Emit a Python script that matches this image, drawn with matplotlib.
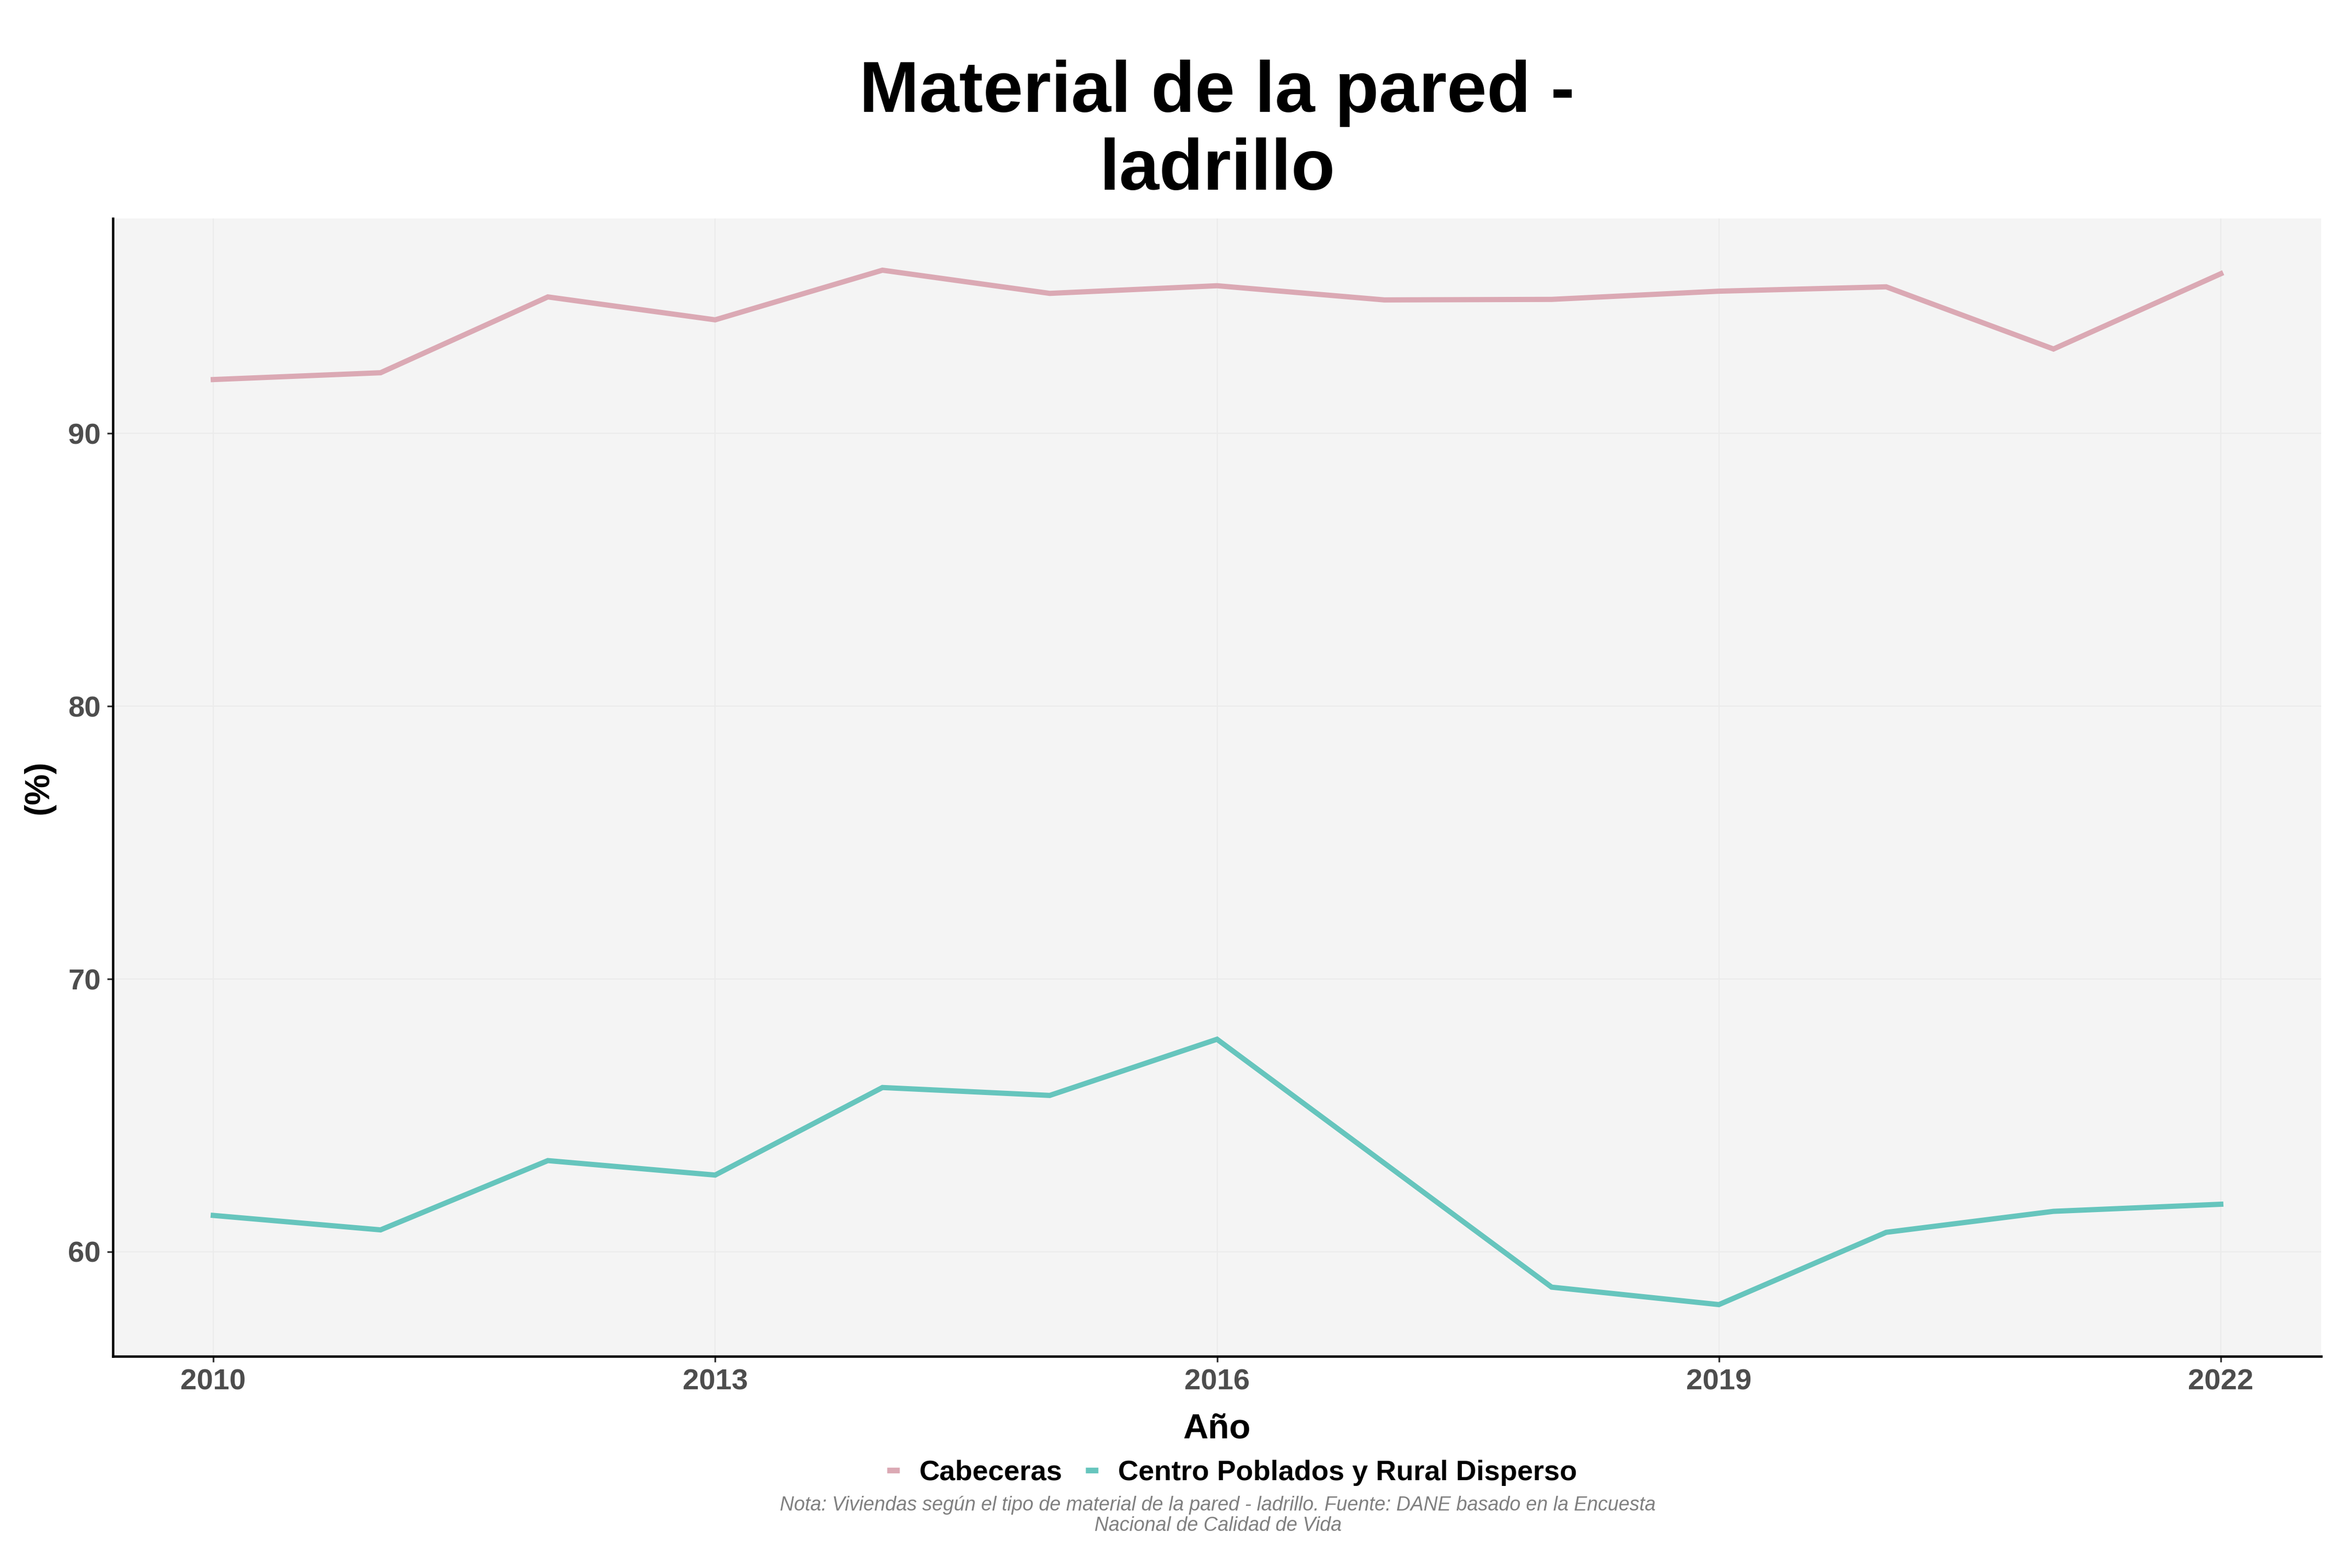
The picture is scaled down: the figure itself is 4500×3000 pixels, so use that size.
import matplotlib
matplotlib.use("Agg")
import matplotlib.pyplot as plt
from matplotlib.lines import Line2D

plt.rcParams["font.family"] = ["Liberation Sans", "DejaVu Sans"]

# data
years_cab = [2010, 2011, 2012, 2013, 2014, 2015, 2016, 2017, 2018, 2019, 2020, 2021, 2022]
cabeceras = [91.98, 92.23, 95.01, 94.17, 95.99, 95.14, 95.42, 94.90, 94.92, 95.22, 95.38, 93.10, 95.86]
# no 2017 vertex visible for the rural series
years_rur = [2010, 2011, 2012, 2013, 2014, 2015, 2016, 2018, 2019, 2020, 2021, 2022]
rural = [61.33, 60.80, 63.34, 62.81, 66.02, 65.73, 67.79, 58.70, 58.06, 60.71, 61.48, 61.74]

series_names = ["Cabeceras", "Centro Poblados y Rural Disperso"]
colors = ["#DBA9B4", "#66C5BD"]
xticks = [2010, 2013, 2016, 2019, 2022]
yticks = [60, 70, 80, 90]

W, H = 4500, 3000
left, right, top, bottom = 216, 4441, 418, 2595
fig = plt.figure(figsize=(15, 10), dpi=300)
ax = fig.add_axes([left / W, 1 - bottom / H, (right - left) / W, (bottom - top) / H])
ax.set_facecolor("#F4F4F4")

ax.plot(years_cab, cabeceras, color=colors[0], lw=2.4, solid_joinstyle="miter")
ax.plot(years_rur, rural, color=colors[1], lw=2.4, solid_joinstyle="miter")
ax.margins(x=0.05, y=0.05)

ax.set_xticks(xticks)
ax.set_yticks(yticks)
ax.grid(True, color="#EBEBEB", lw=0.5)
ax.set_axisbelow(True)
for s in ["top", "right"]:
    ax.spines[s].set_visible(False)
for s in ["left", "bottom"]:
    ax.spines[s].set_color("black")
    ax.spines[s].set_linewidth(1.1)
ax.tick_params(axis="both", length=2.6, width=0.8, color="#333333",
               labelsize=13.5, labelcolor="#4D4D4D", pad=3)
for lab in ax.get_xticklabels() + ax.get_yticklabels():
    lab.set_fontweight("bold")

ax.set_xlabel("Año", fontsize=16, fontweight="bold", labelpad=8)
fig.text(75 / W, 1 - ((top + bottom) / 2) / H, "(%)", rotation=90, fontsize=16,
         fontweight="bold", ha="center", va="center")

fig.text((left + right) / 2 / W, 1 - 114 / H, "Material de la pared -\nladrillo",
         ha="center", va="top", fontsize=33, fontweight="bold", linespacing=1.2)

handles = [Line2D([], [], color=c, lw=2.6, solid_capstyle="butt") for c in colors]
fig.legend(handles, series_names, loc="center", bbox_to_anchor=(2357 / W, 1 - 2818 / H),
           ncol=2, frameon=False, handlelength=0.45, handletextpad=0.7,
           columnspacing=0.8, prop={"size": 13, "weight": "bold"})

fig.text(2330 / W, 1 - 2862 / H,
         "Nota: Viviendas según el tipo de material de la pared - ladrillo. Fuente: DANE basado en la Encuesta\n"
         "Nacional de Calidad de Vida",
         ha="center", va="top", fontsize=9, style="italic", color="#808080", linespacing=1.1)

fig.savefig("out.png", dpi=300, facecolor="white")
